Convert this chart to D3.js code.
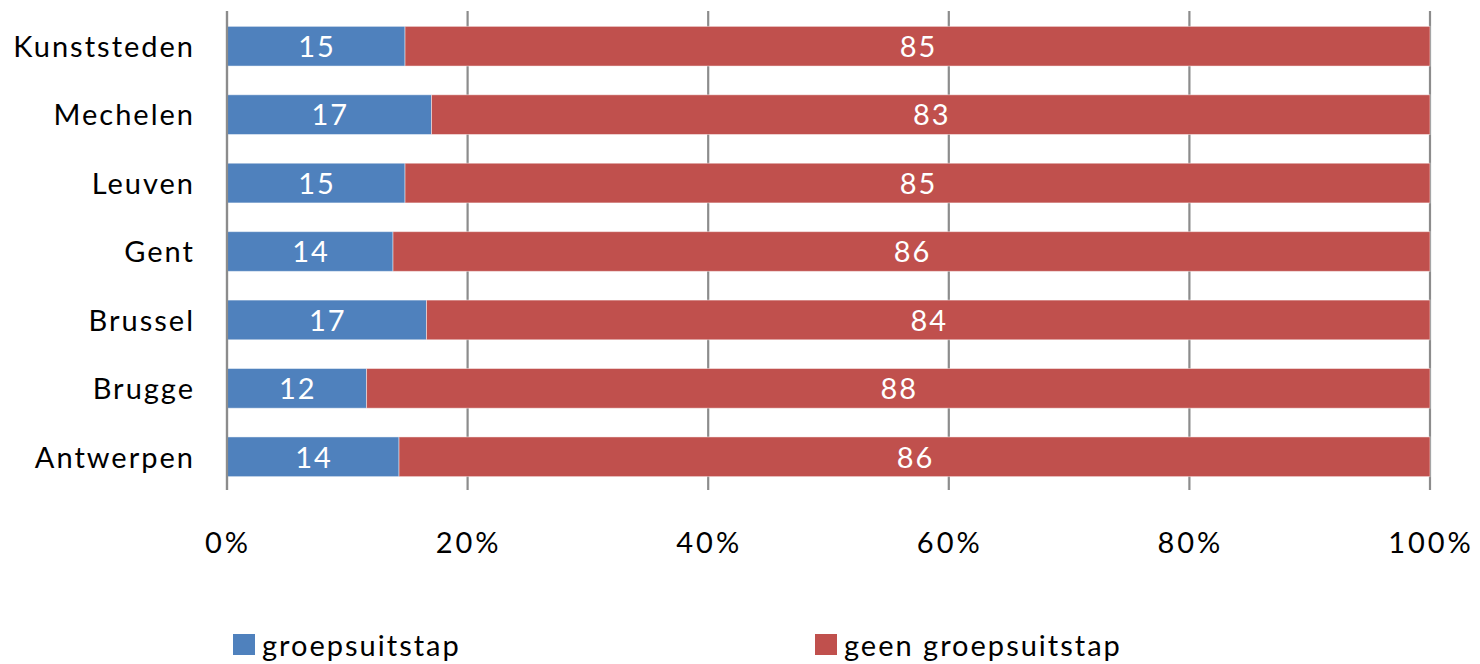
<!DOCTYPE html>
<html><head><meta charset="utf-8">
<script src="https://cdn.jsdelivr.net/npm/d3@7"></script>
<style>body{margin:0;background:#fff;} svg{display:block;}</style>
</head><body>
<svg id="c" width="1480" height="664"></svg>
<script>
const categories = ["Kunststeden","Mechelen","Leuven","Gent","Brussel","Brugge","Antwerpen"];
const groepsuitstap = [14.8, 17.0, 14.8, 13.8, 16.6, 11.6, 14.3];
const geenGroepsuitstap = [85.2, 83.0, 85.2, 86.2, 83.5, 88.4, 85.7];
const seriesNames = ["groepsuitstap","geen groepsuitstap"];
const colors = ["#4F81BD","#C0504D"];
const xTicks = [0, 0.2, 0.4, 0.6, 0.8, 1.0];

const font = "Lato, 'Open Sans', sans-serif";
const ls = 2;
const svg = d3.select("#c");
const plotLeft = 227, plotRight = 1430, plotTop = 11, plotBottom = 490;

const x = d3.scaleLinear().domain([0,1]).range([plotLeft,plotRight]);
const y = d3.scaleBand().domain(categories).range([plotTop+1, plotBottom+1]).paddingInner(0.42).paddingOuter(0.21);

// gridlines
svg.append("g").selectAll("line").data(xTicks).join("line")
  .attr("x1", d=>x(d)).attr("x2", d=>x(d)).attr("y1", plotTop).attr("y2", plotBottom)
  .attr("stroke", "#8c8c8c").attr("stroke-width", 2.2);

const data = categories.map((c,i)=>{
  const tot = groepsuitstap[i] + geenGroepsuitstap[i];
  return {c, a: groepsuitstap[i], b: geenGroepsuitstap[i], pa: groepsuitstap[i]/tot};
});

const g = svg.append("g");
data.forEach(d=>{
  const segs = [
    {x0:0, x1:d.pa, v:d.a, col:colors[0]},
    {x0:d.pa, x1:1, v:d.b, col:colors[1]}
  ];
  segs.forEach(s=>{
    g.append("rect").attr("x", x(s.x0)).attr("width", x(s.x1)-x(s.x0))
      .attr("y", y(d.c)).attr("height", y.bandwidth())
      .attr("fill", s.col).attr("stroke", "rgba(255,255,255,0.45)").attr("stroke-width", 1);
    g.append("text").attr("x", (x(s.x0)+x(s.x1))/2 + 1).attr("y", y(d.c)+y.bandwidth()/2)
      .attr("dy", "0.37em").attr("text-anchor","middle")
      .attr("font-family", font).attr("font-size", 29).attr("letter-spacing", ls).attr("fill","#fff")
      .text(Math.round(s.v));
  });
});

// axis line at 0 over bars
svg.append("line").attr("x1", x(0)).attr("x2", x(0)).attr("y1", plotTop).attr("y2", plotBottom)
  .attr("stroke", "#8c8c8c").attr("stroke-width", 2.2);

// category labels
svg.append("g").selectAll("text").data(categories).join("text")
  .attr("x", 195).attr("y", d=>y(d)+y.bandwidth()/2).attr("dy","0.37em")
  .attr("text-anchor","end").attr("font-family", font).attr("font-size", 29)
  .attr("letter-spacing", ls).attr("fill","#000")
  .text(d=>d);

// x tick labels
svg.append("g").selectAll("text").data(xTicks).join("text")
  .attr("x", d=>x(d)+1).attr("y", 553).attr("text-anchor","middle")
  .attr("font-family", font).attr("font-size", 29).attr("letter-spacing", 3).attr("fill","#000")
  .text(d=>d3.format(".0%")(d));

// legend
const legX = [233, 815];
const leg = svg.append("g");
seriesNames.forEach((n,i)=>{
  leg.append("rect").attr("x", legX[i]).attr("y", 634).attr("width", 22).attr("height", 21).attr("fill", colors[i]);
  leg.append("text").attr("x", legX[i]+29).attr("y", 656).attr("font-family", font)
    .attr("font-size", 29).attr("letter-spacing", ls).attr("fill","#000").text(n);
});
</script>
</body></html>
